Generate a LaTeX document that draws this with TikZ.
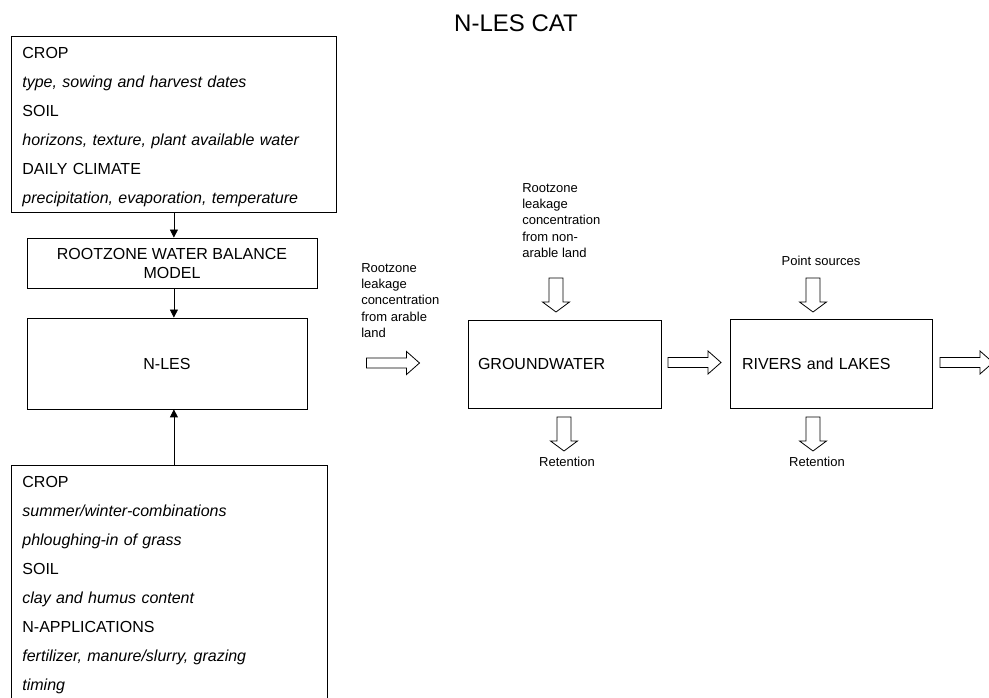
\documentclass[tikz,border=0pt]{standalone}
\usepackage{fontspec}
\setmainfont{Liberation Sans}
\usepackage{tikz}
\usetikzlibrary{matrix, arrows.meta}

\tikzset{
  box/.style={draw, line width=0.6pt, inner sep=0pt},
  small/.style={font=\fontsize{9.75}{12.2}\selectfont},
  tip/.style={-{Triangle[length=6pt,width=6pt]}, line width=0.6pt},
  pics/hright/.style={code={\draw[line width=0.6pt] (0,-5) -- (40,-5) -- (40,-11.5) -- (53,0) -- (40,11.5) -- (40,5) -- (0,5) -- cycle;}},
  pics/hdown/.style={code={\draw[line width=0.6pt] (-7,0) -- (7,0) -- (7,24) -- (13.5,24) -- (0,34) -- (-13.5,24) -- (-7,24) -- cycle;}},
}

\begin{document}
\begin{tikzpicture}[x=0.75pt, y=-0.75pt, font=\fontsize{12}{14.25}\selectfont]
\useasboundingbox (0,0) rectangle (989,698);
\node[font=\fontsize{18}{21}\selectfont] (title) at (516,23) {N-LES CAT};
\matrix (in1) [matrix of nodes, draw, line width=0.6pt, anchor=north west, inner xsep=8.25pt, inner ysep=0.75pt,
  nodes={text width=227.25pt, align=left, text height=15.56pt, text depth=6.19pt, inner sep=0pt, anchor=west}] at (11,36) {
CROP \\
\textit{type, sowing and harvest dates} \\
SOIL \\
\textit{horizons, texture, plant available water} \\
DAILY CLIMATE \\
\textit{precipitation, evaporation, temperature} \\
};
\node[box, minimum width=217.5pt, minimum height=37.5pt, align=center] (rwb) at (172,263) {ROOTZONE WATER BALANCE\\MODEL};
\node[box, minimum width=210pt, minimum height=68.25pt] (nles) at (167,363.5) {N-LES};
\matrix (in2) [matrix of nodes, draw, line width=0.6pt, anchor=north west, inner xsep=8.25pt, inner ysep=0.75pt,
  nodes={text width=220.5pt, align=left, text height=15.56pt, text depth=6.19pt, inner sep=0pt, anchor=west}] at (11,465) {
CROP \\
\textit{summer/winter-combinations} \\
\textit{phloughing-in of grass} \\
SOIL \\
\textit{clay and humus content} \\
N-APPLICATIONS \\
\textit{fertilizer, manure/slurry, grazing} \\
\textit{timing} \\
};
\node[box, inner xsep=7.5pt, text width=129.75pt, minimum height=66pt, align=left] (gw) at (564.5,364) {GROUNDWATER};
\node[box, inner xsep=9pt, text width=133.5pt, minimum height=66.75pt, align=left] (rl) at (831,363.5) {RIVERS and LAKES};
\node[small, anchor=west, align=left, inner sep=0pt] (arable) at (361,300.5) {Rootzone\\leakage\\concentration\\from arable\\land};
\node[small, anchor=west, align=left, inner sep=0pt] (nonarable) at (522,220.5) {Rootzone\\leakage\\concentration\\from non-\\arable land};
\node[small] (points) at (821,261) {Point sources};
\node[small] (ret1) at (567,462) {Retention};
\node[small] (ret2) at (817,462) {Retention};
\draw[tip] (in1.south) -- (in1.south |- rwb.north);
\draw[tip] (in1.south |- rwb.south) -- (in1.south |- nles.north);
\draw[tip] (in1.south |- in2.north) -- (in1.south |- nles.south);
\pic at (366.5,363) {hright};
\pic at (668,362.5) {hright};
\pic at (940,362.5) {hright};
\pic at (556,278) {hdown};
\pic at (564,417) {hdown};
\pic at (813,278) {hdown};
\pic at (813,417) {hdown};
\end{tikzpicture}
\end{document}
